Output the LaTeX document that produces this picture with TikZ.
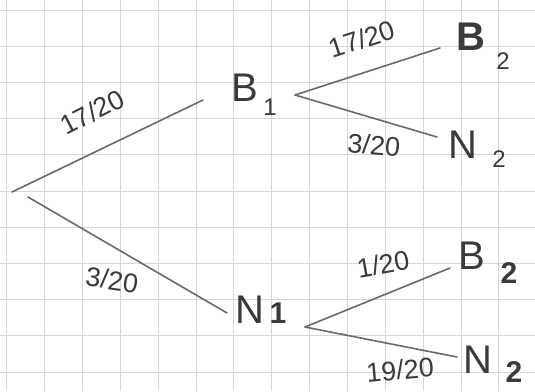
\documentclass[tikz,border=0pt]{standalone}
\usepackage{fontspec}
\setmainfont{Liberation Sans}
\definecolor{gridc}{HTML}{D4D6DE}
\definecolor{ink}{HTML}{3A3A3A}
\definecolor{pen}{HTML}{6A6A6A}
\begin{document}
\begin{tikzpicture}[x=1pt,y=-1pt,
  branch/.style={draw=pen,line width=1.6pt,line cap=round},
  big/.style={text=ink,font=\fontsize{40}{40}\selectfont,inner sep=0pt},
  sub/.style={text=ink,font=\fontsize{24}{24}\selectfont,inner sep=0pt},
  prob/.style={text=ink,font=\fontsize{27}{27}\selectfont,inner sep=0pt}]
\fill[white] (0,0) rectangle (535,391);
\useasboundingbox (0,0) rectangle (535,391);
\foreach \i in {0,...,14} \draw[gridc,line width=0.8pt] ({6.7+37.85*\i},0) -- ({6.7+37.85*\i},391);
\foreach \j in {0,...,10} \draw[gridc,line width=0.8pt] (0,{10+36.2*\j}) -- (535,{10+36.2*\j});
% branch points
\coordinate (root) at (12,192);
\coordinate (rootb) at (28,197);
\coordinate (b1in) at (203,100);
\coordinate (b1out) at (295,95);
\coordinate (n1in) at (227,313);
\coordinate (n1out) at (305,327);
\coordinate (b2ain) at (440,48);
\coordinate (n2ain) at (437,137);
\coordinate (b2bin) at (450,268);
\coordinate (n2bin) at (457,357);
% texts
\node[big] (B1) at (245,88) {B};
\node[sub] (B1s) at (270,107) {1};
\node[big] (N1) at (250,310) {N};
\node[sub,font=\bfseries\fontsize{30}{30}\selectfont] (N1s) at (278,313) {1};
\node[big,font=\bfseries\fontsize{40}{40}\selectfont] (B2a) at (471,37) {B};
\node[sub] (B2as) at (503,61) {2};
\node[big] (N2a) at (463,145) {N};
\node[sub] (N2as) at (499,159) {2};
\node[big] (B2b) at (472,256) {B};
\node[sub,font=\bfseries\fontsize{30}{30}\selectfont] (B2bs) at (509,273) {2};
\node[big] (N2b) at (478,360) {N};
\node[sub,font=\bfseries\fontsize{30}{30}\selectfont] (N2bs) at (514,372) {2};
% connectors
\draw[branch] (root) -- (b1in);
\draw[branch] (rootb) -- (n1in);
\draw[branch] (b1out) -- (b2ain);
\draw[branch] (b1out) -- (n2ain);
\draw[branch] (n1out) -- (b2bin);
\draw[branch] (n1out) -- (n2bin);
% probabilities
\node[prob,rotate=27] (p1) at (92,112) {17/20};
\node[prob,rotate=-8] (p2) at (112,280) {3/20};
\node[prob,rotate=18] (p3) at (362,39) {17/20};
\node[prob,rotate=-5] (p4) at (374,145) {3/20};
\node[prob,rotate=10] (p5) at (383,264) {1/20};
\node[prob,rotate=5] (p6) at (400,370) {19/20};
\end{tikzpicture}
\end{document}
